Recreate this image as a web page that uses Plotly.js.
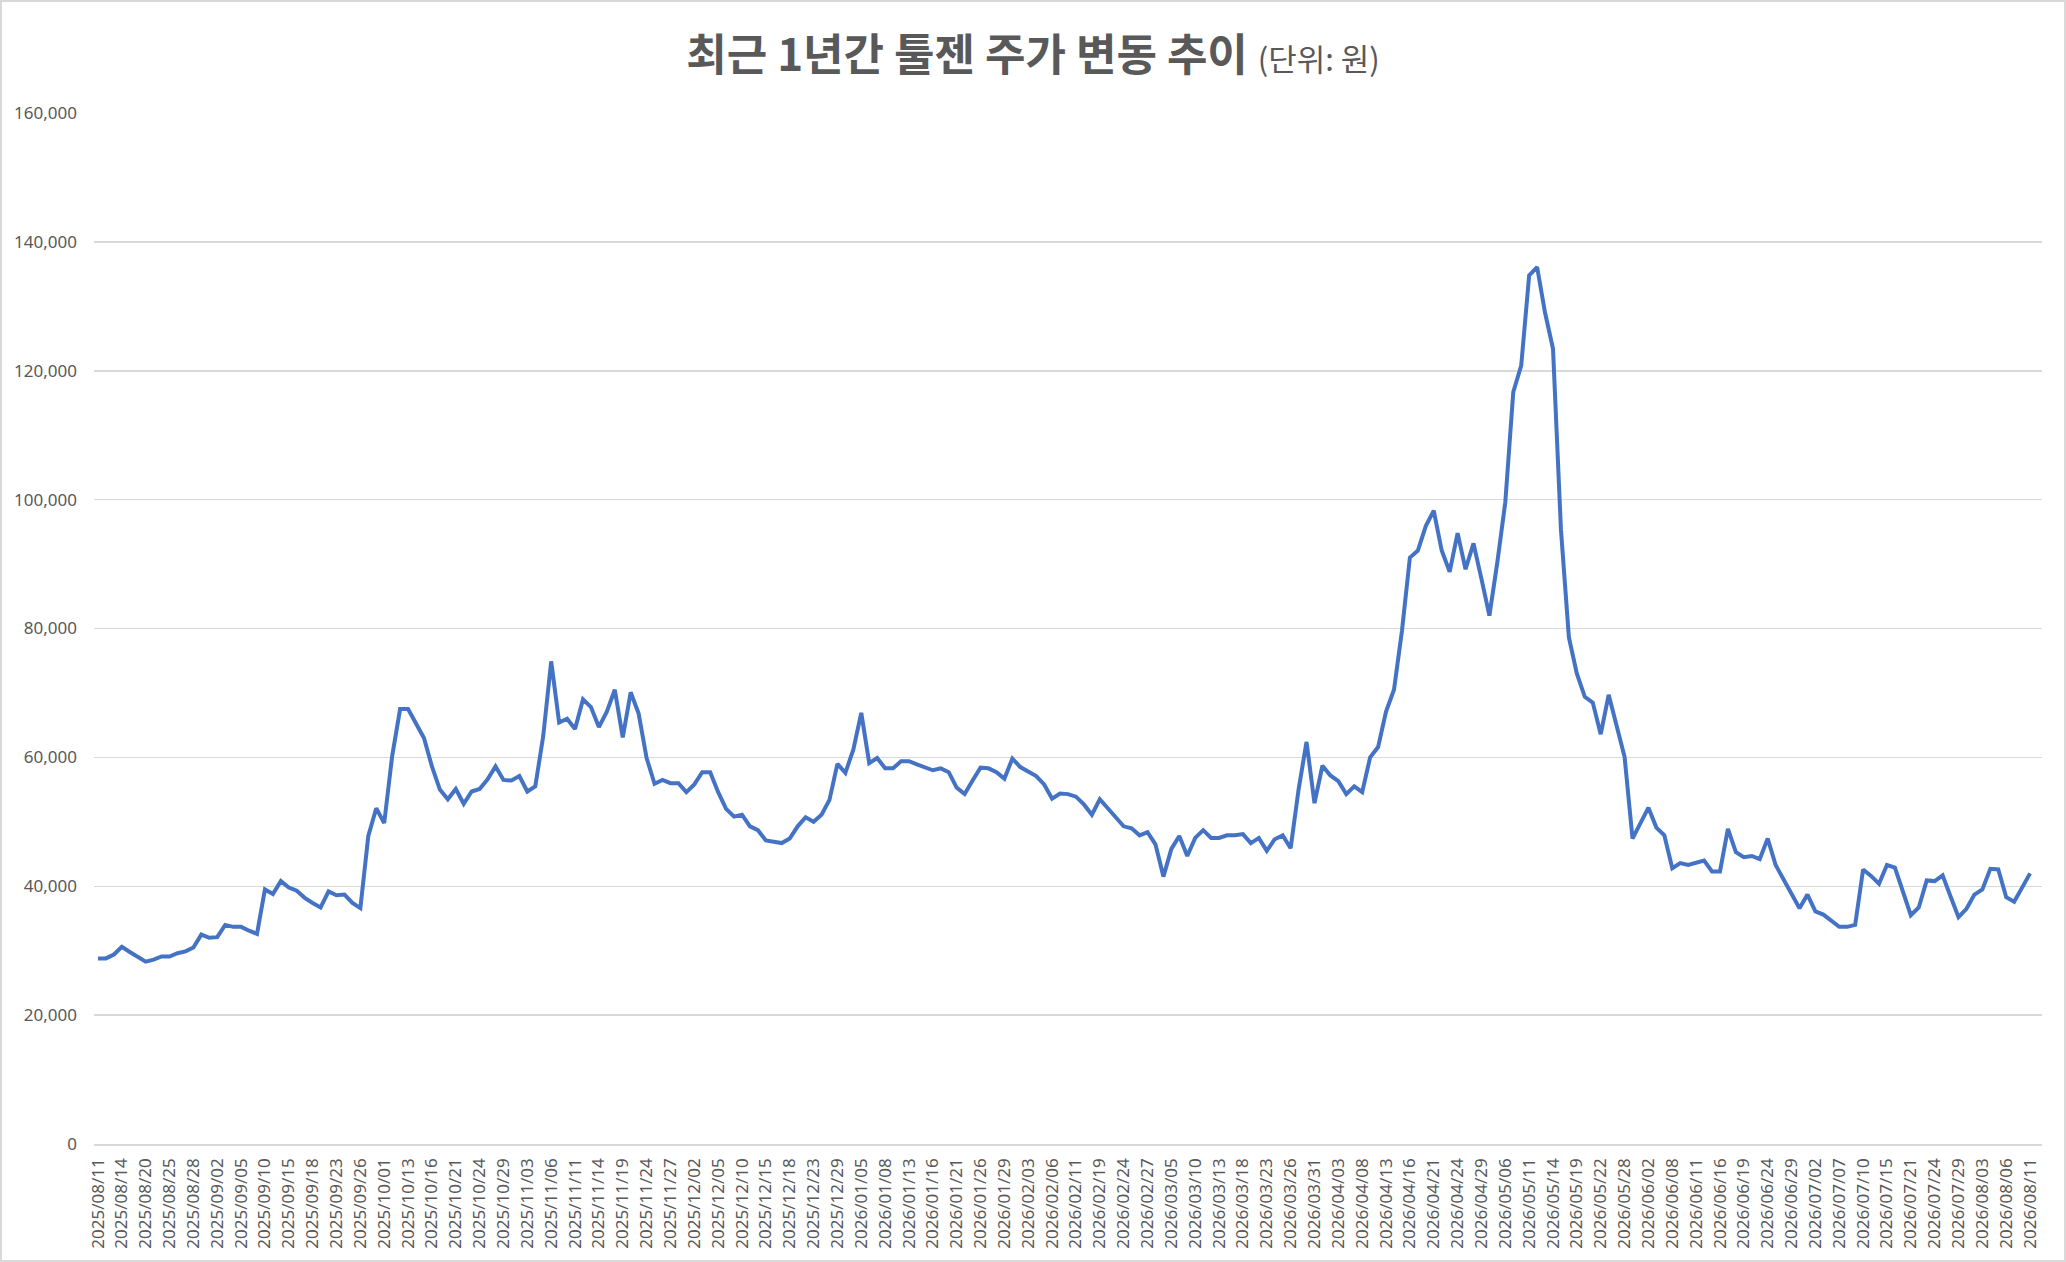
<!DOCTYPE html>
<html>
<head>
<meta charset="utf-8">
<script src="https://cdn.plot.ly/plotly-3.0.1.min.js"></script>
<style>
  html, body { margin: 0; padding: 0; background: #ffffff; }
  #chart { width: 2066px; height: 1262px; box-sizing: border-box; border: 2px solid #d9d9d9; background: #fff; }
</style>
</head>
<body>
<div id="chart"></div>
<script>
// Trading dates (categories)
const dates = [
"2025/08/11","2025/08/12","2025/08/13","2025/08/14","2025/08/18","2025/08/19","2025/08/20","2025/08/21","2025/08/22","2025/08/25","2025/08/26","2025/08/27","2025/08/28","2025/08/29",
"2025/09/01","2025/09/02","2025/09/03","2025/09/04","2025/09/05","2025/09/08","2025/09/09","2025/09/10","2025/09/11","2025/09/12","2025/09/15","2025/09/16","2025/09/17","2025/09/18","2025/09/19","2025/09/22","2025/09/23","2025/09/24","2025/09/25","2025/09/26","2025/09/29","2025/09/30",
"2025/10/01","2025/10/02","2025/10/10","2025/10/13","2025/10/14","2025/10/15","2025/10/16","2025/10/17","2025/10/20","2025/10/21","2025/10/22","2025/10/23","2025/10/24","2025/10/27","2025/10/28","2025/10/29","2025/10/30","2025/10/31",
"2025/11/03","2025/11/04","2025/11/05","2025/11/06","2025/11/07","2025/11/10","2025/11/11","2025/11/12","2025/11/13","2025/11/14","2025/11/17","2025/11/18","2025/11/19","2025/11/20","2025/11/21","2025/11/24","2025/11/25","2025/11/26","2025/11/27","2025/11/28",
"2025/12/01","2025/12/02","2025/12/03","2025/12/04","2025/12/05","2025/12/08","2025/12/09","2025/12/10","2025/12/11","2025/12/12","2025/12/15","2025/12/16","2025/12/17","2025/12/18","2025/12/19","2025/12/22","2025/12/23","2025/12/24","2025/12/26","2025/12/29","2025/12/30",
"2026/01/02","2026/01/05","2026/01/06","2026/01/07","2026/01/08","2026/01/09","2026/01/12","2026/01/13","2026/01/14","2026/01/15","2026/01/16","2026/01/19","2026/01/20","2026/01/21","2026/01/22","2026/01/23","2026/01/26","2026/01/27","2026/01/28","2026/01/29","2026/01/30",
"2026/02/02","2026/02/03","2026/02/04","2026/02/05","2026/02/06","2026/02/09","2026/02/10","2026/02/11","2026/02/12","2026/02/13","2026/02/19","2026/02/20","2026/02/23","2026/02/24","2026/02/25","2026/02/26","2026/02/27",
"2026/03/03","2026/03/04","2026/03/05","2026/03/06","2026/03/09","2026/03/10","2026/03/11","2026/03/12","2026/03/13","2026/03/16","2026/03/17","2026/03/18","2026/03/19","2026/03/20","2026/03/23","2026/03/24","2026/03/25","2026/03/26","2026/03/27","2026/03/30","2026/03/31",
"2026/04/01","2026/04/02","2026/04/03","2026/04/06","2026/04/07","2026/04/08","2026/04/09","2026/04/10","2026/04/13","2026/04/14","2026/04/15","2026/04/16","2026/04/17","2026/04/20","2026/04/21","2026/04/22","2026/04/23","2026/04/24","2026/04/27","2026/04/28","2026/04/29","2026/04/30",
"2026/05/04","2026/05/06","2026/05/07","2026/05/08","2026/05/11","2026/05/12","2026/05/13","2026/05/14","2026/05/15","2026/05/18","2026/05/19","2026/05/20","2026/05/21","2026/05/22","2026/05/26","2026/05/27","2026/05/28","2026/05/29",
"2026/06/01","2026/06/02","2026/06/04","2026/06/05","2026/06/08","2026/06/09","2026/06/10","2026/06/11","2026/06/12","2026/06/15","2026/06/16","2026/06/17","2026/06/18","2026/06/19","2026/06/22","2026/06/23","2026/06/24","2026/06/25","2026/06/26","2026/06/29","2026/06/30",
"2026/07/01","2026/07/02","2026/07/03","2026/07/06","2026/07/07","2026/07/08","2026/07/09","2026/07/10","2026/07/13","2026/07/14","2026/07/15","2026/07/16","2026/07/20","2026/07/21","2026/07/22","2026/07/23","2026/07/24","2026/07/27","2026/07/28","2026/07/29","2026/07/30","2026/07/31",
"2026/08/03","2026/08/04","2026/08/05","2026/08/06","2026/08/07","2026/08/10","2026/08/11"
];

// Closing price (원), one row per month
const prices = [
28800,28800,29400,30600,29800,29000,28300,28600,29100,29100,29600,29900,30500,32500,
32000,32100,34000,33700,33700,33100,32600,39500,38800,40800,39800,39300,38200,37400,36700,39200,38600,38700,37400,36600,47800,52100,
49800,60200,67500,67500,65300,63000,58600,55000,53500,55100,52800,54700,55100,56600,58600,56500,56400,57100,
54700,55500,63300,74900,65400,66000,64400,69000,67800,64700,67100,70500,63100,70100,66800,59900,55900,56500,56000,56000,
54600,55800,57700,57700,54600,52000,50800,51100,49300,48700,47100,46900,46700,47400,49300,50700,50000,51100,53400,59000,57600,
61200,66900,59100,59900,58300,58300,59400,59400,58900,58500,58000,58300,57700,55300,54300,56400,58400,58300,57700,56700,59800,
58500,57800,57100,55800,53600,54400,54300,53900,52700,51100,53500,52100,50700,49300,49000,47900,48400,
46500,41500,45800,47800,44700,47500,48700,47500,47500,47900,47900,48100,46700,47500,45500,47300,47900,45900,55000,62400,52900,
58700,57200,56300,54300,55500,54600,60000,61600,67100,70500,79600,91000,92100,95900,98300,92100,88800,94800,89200,93200,87700,82000,
90300,99600,116700,120800,134800,136100,129000,123400,95300,78600,73000,69400,68500,63600,69700,64600,60100,47400,
49800,52200,49100,47900,42800,43600,43300,43600,44000,42300,42300,48900,45300,44500,44700,44200,47400,43300,41000,38700,36600,
38700,36100,35600,34700,33700,33700,34000,42600,41600,40400,43300,42900,39300,35500,36700,40900,40800,41700,38400,35200,36500,38700,
39500,42700,42600,38300,37600,39800,42000
];

const titleMain = "최근 1년간 툴젠 주가 변동 추이";
const titleUnit = "(단위: 원)";
const yTicks = [0, 20000, 40000, 60000, 80000, 100000, 120000, 140000, 160000];
const xTickLabels = dates.filter((d, i) => i % 3 === 0);

const trace = {
  type: "scatter",
  mode: "lines",
  x: dates,
  y: prices,
  line: { color: "#4472C4", width: 4 },
  hoverinfo: "x+y"
};

const layout = {
  width: 2062,
  height: 1258,
  margin: { l: 92, r: 22, t: 111, b: 116 },
  paper_bgcolor: "#ffffff",
  plot_bgcolor: "#ffffff",
  showlegend: false,
  font: { family: "'Noto Sans', 'Noto Sans CJK KR', sans-serif", color: "#595959" },
  title: {
    text: "<b>" + titleMain + "</b> <span style='font-size:31px;font-weight:normal'>" + titleUnit + "</span>",
    font: { family: "'Noto Sans CJK KR', 'Noto Sans', sans-serif", size: 44, color: "#595959" },
    x: 0.5, xanchor: "center",
    y: 1 - 54 / 1258, yanchor: "middle", yref: "container"
  },
  xaxis: {
    type: "category",
    range: [-0.5, dates.length + 0.5],
    tickmode: "array",
    tickvals: xTickLabels,
    ticktext: xTickLabels,
    tickangle: -90,
    tickfont: { size: 17, color: "#595959", family: "'Noto Sans', sans-serif" },
    showgrid: false,
    showline: true,
    linecolor: "#d9d9d9",
    linewidth: 1.5,
    ticks: "",
    ticklabelstandoff: 6,
    zeroline: false,
    fixedrange: true
  },
  yaxis: {
    range: [0, 160000],
    tickmode: "array",
    tickvals: yTicks,
    tickformat: ",d",
    tickfont: { size: 17, color: "#595959", family: "'Noto Sans', sans-serif" },
    showgrid: true,
    gridcolor: "#d9d9d9",
    gridwidth: 1.5,
    zeroline: false,
    showline: false,
    ticks: "",
    ticklabelstandoff: 16,
    fixedrange: true
  }
};

Plotly.newPlot("chart", [trace], layout, { displayModeBar: false, staticPlot: true });
</script>
</body>
</html>
